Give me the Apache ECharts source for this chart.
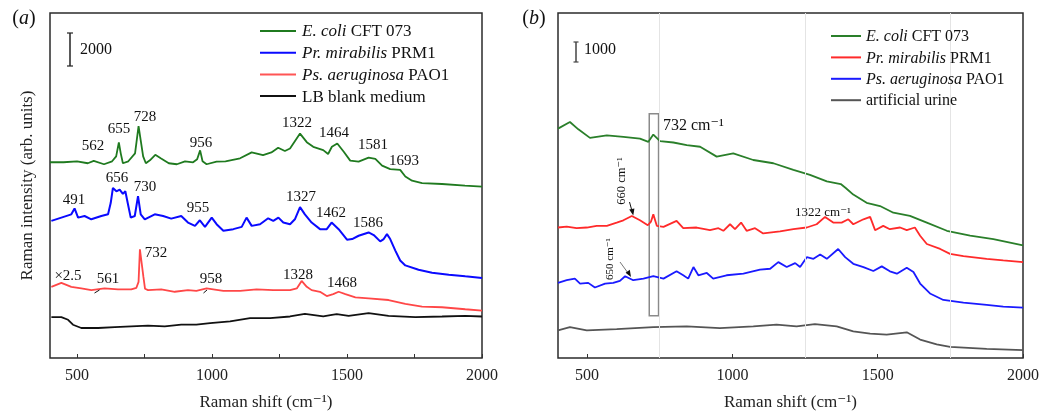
<!DOCTYPE html>
<html>
<head>
<meta charset="utf-8">
<script src="https://cdn.jsdelivr.net/npm/echarts@6/dist/echarts.min.js"></script>
<style>
html,body{margin:0;padding:0;background:#fff;}
#c{width:1054px;height:416px;}
</style>
</head>
<body>
<div id="c"></div>
<script>
// ---------- Panel (a) spectra: [Raman shift (cm^-1), intensity (arb.)] ----------
const ecoliA = [[400,11880],[450,11880],[500,11940],[540,11820],[562,11960],[600,11760],[630,11940],[645,12240],[655,13080],[662,12420],[670,11820],[690,11940],[715,12420],[728,14080],[735,13320],[745,12240],[755,11820],[770,12000],[790,12330],[810,12120],[840,11820],[870,11760],[900,11940],[930,11880],[945,12060],[956,12600],[965,11940],[980,11760],[1017,11920],[1050,11940],[1104,12120],[1147,12480],[1189,12320],[1220,12480],[1245,12760],[1270,12560],[1289,12720],[1326,13620],[1351,13100],[1375,12820],[1412,12620],[1430,12380],[1444,12820],[1464,13020],[1488,12520],[1512,11980],[1543,11920],[1580,12160],[1605,12080],[1630,11680],[1660,11460],[1697,11420],[1716,11020],[1741,10760],[1778,10620],[1852,10560],[1937,10460],[2000,10400]];
const mirabilisA = [[405,8320],[442,8520],[479,8720],[491,9080],[504,8520],[528,8620],[553,8420],[590,8620],[615,8720],[625,9420],[633,10320],[646,10120],[658,10220],[670,9960],[679,10120],[689,9320],[699,8520],[714,8620],[726,9820],[736,8720],[751,8420],[788,8720],[819,8620],[849,8460],[886,8620],[911,8220],[937,8020],[955,8360],[974,7960],[999,8520],[1017,8120],[1042,7720],[1079,7820],[1110,7960],[1128,8520],[1147,8020],[1178,8120],[1208,8480],[1227,8320],[1246,8520],[1264,8220],[1289,8120],[1307,8420],[1326,9160],[1344,8720],[1369,8220],[1400,7820],[1425,7820],[1443,8220],[1469,7820],[1500,7180],[1519,7220],[1543,7420],[1580,7620],[1599,7460],[1623,7080],[1636,7220],[1648,7520],[1660,7220],[1679,6520],[1697,5920],[1716,5620],[1765,5360],[1815,5180],[1877,5060],[1938,4960],[2000,4860]];
const aeruginosaA = [[405,4320],[442,4560],[479,4320],[516,4220],[553,4120],[602,4220],[652,4160],[701,4160],[720,4260],[728,4620],[733,6600],[740,6660],[746,4920],[752,4200],[763,4120],[812,4160],[862,4020],[911,4120],[942,4080],[980,4220],[1042,4080],[1104,4080],[1165,4160],[1227,4120],[1289,4120],[1314,4220],[1332,4680],[1351,4320],[1369,4120],[1400,4020],[1425,3760],[1449,3880],[1469,4020],[1494,3880],[1531,3680],[1580,3620],[1654,3520],[1716,3280],[1778,3120],[1852,3080],[1938,2960],[2000,2880]];
const blankA = [[405,2480],[442,2480],[467,2320],[485,2020],[516,1820],[578,1820],[640,1880],[701,1920],[763,1960],[825,1920],[886,2020],[942,2020],[993,2120],[1067,2220],[1141,2420],[1215,2420],[1289,2520],[1344,2680],[1412,2520],[1444,2620],[1462,2660],[1506,2560],[1580,2720],[1654,2560],[1753,2480],[1852,2520],[1938,2560],[2000,2520]];

// ---------- Panel (b) spectra ----------
const ecoliB = [[400,11600],[441,11935],[470,11565],[510,11135],[568,11265],[625,11185],[682,11100],[711,10935],[728,11300],[751,10965],[797,10900],[843,10765],[889,10685],[946,10185],[1003,10350],[1072,10015],[1141,9850],[1210,9515],[1267,9265],[1325,8935],[1373,8800],[1390,8600],[1416,8265],[1462,7850],[1508,7685],[1554,7350],[1611,7185],[1669,6850],[1738,6435],[1818,6185],[1898,6015],[2000,5700]];
const mirabilisB = [[400,6600],[430,6650],[464,6565],[499,6600],[533,6685],[568,6685],[602,6850],[625,6965],[654,7185],[682,6965],[709,6715],[720,6900],[728,7265],[740,6685],[763,6635],[808,6935],[831,6565],[877,6600],[923,6465],[952,6565],[969,6435],[992,6765],[1009,6515],[1030,6850],[1049,6435],[1078,6565],[1106,6300],[1164,6400],[1210,6515],[1256,6600],[1290,6765],[1319,7135],[1347,6850],[1376,6850],[1399,7015],[1416,6765],[1451,7015],[1474,7135],[1491,6465],[1519,6685],[1542,6515],[1577,6600],[1600,6465],[1628,6600],[1646,6185],[1669,5765],[1715,5515],[1749,5265],[1795,5150],[1875,5015],[1932,4935],[2000,4850]];
const aeruginosaB = [[400,3800],[430,3935],[458,4015],[476,3765],[504,3800],[527,3565],[562,3765],[590,3800],[613,3900],[631,4135],[659,3935],[694,4015],[728,4135],[763,4015],[808,4385],[831,4185],[848,4015],[866,4600],[883,4185],[912,4300],[934,4015],[980,4185],[1038,4265],[1095,4465],[1130,4515],[1158,4850],[1187,4600],[1216,4800],[1233,4600],[1256,5100],[1279,5015],[1302,5235],[1325,5015],[1364,5515],[1388,5100],[1416,4765],[1451,4600],[1485,4400],[1514,4635],[1542,4385],[1566,4265],[1600,4565],[1623,4350],[1646,3765],[1680,3265],[1726,2935],[1795,2800],[1875,2685],[1932,2600],[2000,2550]];
const urineB = [[400,1400],[441,1565],[499,1400],[602,1465],[728,1565],[843,1600],[957,1515],[1072,1600],[1152,1685],[1221,1600],[1284,1715],[1359,1600],[1416,1350],[1474,1235],[1531,1185],[1600,1300],[1646,935],[1703,685],[1749,565],[1875,465],[2000,400]];

// ---------- axes / annotations ----------
const xLabelValues = [500, 1000, 1500, 2000];
const xTickValues = [500, 750, 1000, 1250, 1500, 1750, 2000];
const gridLinesB = [750, 1250, 1750];
const boxB = [714, 746, 2135, 12350]; // x1, x2, y1, y2 of the 732 cm-1 box
const peaksA = [
  ['562', 93, 146], ['655', 119, 129], ['728', 145, 117], ['956', 201, 143],
  ['1322', 297, 123], ['1464', 334, 133], ['1581', 373, 145], ['1693', 404, 161],
  ['491', 74, 200], ['656', 117, 178], ['730', 145, 187], ['955', 198, 208],
  ['1327', 301, 197], ['1462', 331, 213], ['1586', 368, 223],
  ['732', 156, 253], ['561', 108, 279], ['958', 211, 279], ['1328', 298, 275], ['1468', 342, 283]
];

const SERIF = "'Liberation Serif','DejaVu Serif','Times New Roman',serif";
const chart = echarts.init(document.getElementById('c'), null, {renderer: 'canvas'});

function line(name, data, color, idx, width) {
  return {
    name: name, type: 'line', data: data, xAxisIndex: idx, yAxisIndex: idx,
    showSymbol: false, symbol: 'none', animation: false, silent: true,
    lineStyle: {color: color, width: width || 1.8}, itemStyle: {color: color}
  };
}

const series = [
  line('E. coli CFT 073', ecoliA, '#1f7a1f', 0),
  line('Pr. mirabilis PRM1', mirabilisA, '#0a0aff', 0, 2),
  line('Ps. aeruginosa PAO1 (×2.5)', aeruginosaA, '#ff4747', 0),
  line('LB blank medium', blankA, '#111111', 0),
  line('E. coli CFT 073 (urine)', ecoliB, '#2a7f2a', 1),
  line('Pr. mirabilis PRM1 (urine)', mirabilisB, '#ff2a2a', 1),
  line('Ps. aeruginosa PAO1 (urine)', aeruginosaB, '#1a1aff', 1),
  line('artificial urine', urineB, '#555555', 1)
];
series[7].markLine = {
  silent: true, symbol: 'none', label: {show: false}, animation: false,
  lineStyle: {color: '#e4e4e4', width: 1, type: 'solid'},
  data: gridLinesB.map(v => ({xAxis: v}))
};
series[7].markArea = {
  silent: true, animation: false,
  itemStyle: {color: 'rgba(0,0,0,0)', borderColor: '#8a8a8a', borderWidth: 1.5},
  data: [[{xAxis: boxB[0], yAxis: boxB[2]}, {xAxis: boxB[1], yAxis: boxB[3]}]]
};

function xAxis(idx) {
  return {
    type: 'value', gridIndex: idx, min: 400, max: 2000,
    name: 'Raman shift (cm⁻¹)', nameLocation: 'middle', nameGap: 36,
    nameTextStyle: {fontFamily: SERIF, fontSize: 17, color: '#222'},
    axisLine: {show: false},
    axisTick: {show: true, inside: true, length: 4, customValues: xTickValues, lineStyle: {color: '#333'}},
    axisLabel: {show: true, customValues: xLabelValues, margin: 10, fontFamily: SERIF, fontSize: 16, color: '#222',
      formatter: v => String(v)},
    splitLine: {show: false}
  };
}
function yAxis(idx, max) {
  return {
    type: 'value', gridIndex: idx, min: 0, max: max,
    axisLine: {show: false}, axisTick: {show: false}, axisLabel: {show: false}, splitLine: {show: false}
  };
}
const yA = yAxis(0, 20940);
yA.name = 'Raman intensity (arb. units)';
yA.nameLocation = 'middle';
yA.nameGap = 14;
yA.nameTextStyle = {fontFamily: SERIF, fontSize: 17, color: '#222'};

function txt(text, x, y, opt) {
  opt = opt || {};
  return {
    type: 'text', x: x, y: y, rotation: opt.rotation || 0, silent: true, z: 100,
    style: {
      text: text, fill: opt.fill || '#111',
      font: (opt.style || 'normal') + ' ' + (opt.size || 15) + 'px ' + SERIF,
      fontFamily: SERIF, fontSize: opt.size || 15, fontStyle: opt.style || 'normal',
      textAlign: opt.align || 'center', align: opt.align || 'center',
      textVerticalAlign: 'middle', verticalAlign: 'middle',
      rich: opt.rich
    }
  };
}
function seg(x1, y1, x2, y2, color, w) {
  return {type: 'line', silent: true, z: 100, shape: {x1: x1, y1: y1, x2: x2, y2: y2}, style: {stroke: color || '#111', lineWidth: w || 1.2}};
}
function legendItems(items, lx1, lx2, tx, y0, gap, size) {
  const out = [];
  items.forEach((it, i) => {
    const y = y0 + i * gap;
    out.push(seg(lx1, y, lx2, y, it[2], 2));
    out.push(txt(it[1] ? '{i|' + it[0] + '} ' + it[1] : it[0], tx, y + 1, {
      align: 'left', size: size,
      rich: {i: {fontStyle: 'italic', fontFamily: SERIF, fontSize: size, fill: '#111'}}
    }));
  });
  return out;
}

const richI = {i: {fontStyle: 'italic', fontFamily: SERIF, fontSize: 20}};
const graphic = [];
// panel labels
graphic.push(txt('({i|a})', 24, 19, {size: 20, rich: richI}));
graphic.push(txt('({i|b})', 534, 19, {size: 20, rich: richI}));
// scale bars
graphic.push(seg(70, 33, 70, 66, '#222', 1.5), seg(67, 33, 73, 33, '#222', 1.2), seg(67, 66, 73, 66, '#222', 1.2));
graphic.push(txt('2000', 80, 50, {align: 'left', size: 16}));
graphic.push(seg(576, 42, 576, 62, '#444', 1.5), seg(573.5, 42, 578.5, 42, '#444', 1.2), seg(573.5, 62, 578.5, 62, '#444', 1.2));
graphic.push(txt('1000', 584, 50, {align: 'left', size: 16}));
// legends
graphic.push(...legendItems([
  ['E. coli', 'CFT 073', '#1f7a1f'],
  ['Pr. mirabilis', 'PRM1', '#0a0aff'],
  ['Ps. aeruginosa', 'PAO1', '#ff5555'],
  ['LB blank medium', '', '#111111']
], 260, 296, 302, 31, 21.7, 17));
graphic.push(...legendItems([
  ['E. coli', 'CFT 073', '#2a7f2a'],
  ['Pr. mirabilis', 'PRM1', '#ff2a2a'],
  ['Ps. aeruginosa', 'PAO1', '#1a1aff'],
  ['artificial urine', '', '#555555']
], 831, 861, 866, 36, 21.4, 16));
// panel (a) peak labels
peaksA.forEach(p => graphic.push(txt(p[0], p[1], p[2], {size: 15})));
graphic.push(txt('×2.5', 68, 276, {size: 15}));
graphic.push(seg(94.5, 293, 99.5, 290, '#111', 1), seg(203.5, 293, 207, 290, '#111', 1));
// panel (b) annotations
graphic.push(txt('732 cm⁻¹', 663, 126, {align: 'left', size: 16}));
graphic.push(txt('1322 cm⁻¹', 795, 213, {align: 'left', size: 13}));
graphic.push(txt('660 cm⁻¹', 622, 181, {size: 12.5, rotation: Math.PI / 2}));
graphic.push(txt('650 cm⁻¹', 610, 259, {size: 11, rotation: Math.PI / 2}));
graphic.push(seg(629.5, 202, 632, 211, '#111', 1));
graphic.push({type: 'polygon', silent: true, z: 100, shape: {points: [[633.3, 215.5], [629.2, 209.5], [634.4, 208.4]]}, style: {fill: '#111'}});
graphic.push(seg(620, 262, 628, 273, '#777', 1));
graphic.push({type: 'polygon', silent: true, z: 100, shape: {points: [[631, 277], [625.6, 272.8], [629.8, 269.8]]}, style: {fill: '#111'}});

chart.setOption({
  animation: false,
  backgroundColor: '#ffffff',
  grid: [
    {left: 50, right: 572, top: 13, bottom: 54, show: true, borderColor: '#2b2b2b', borderWidth: 1.5, backgroundColor: 'transparent'},
    {left: 558, right: 31, top: 13, bottom: 54, show: true, borderColor: '#2b2b2b', borderWidth: 1.5, backgroundColor: 'transparent'}
  ],
  xAxis: [xAxis(0), xAxis(1)],
  yAxis: [yA, yAxis(1, 17450)],
  series: series,
  graphic: graphic
});
</script>
</body>
</html>
